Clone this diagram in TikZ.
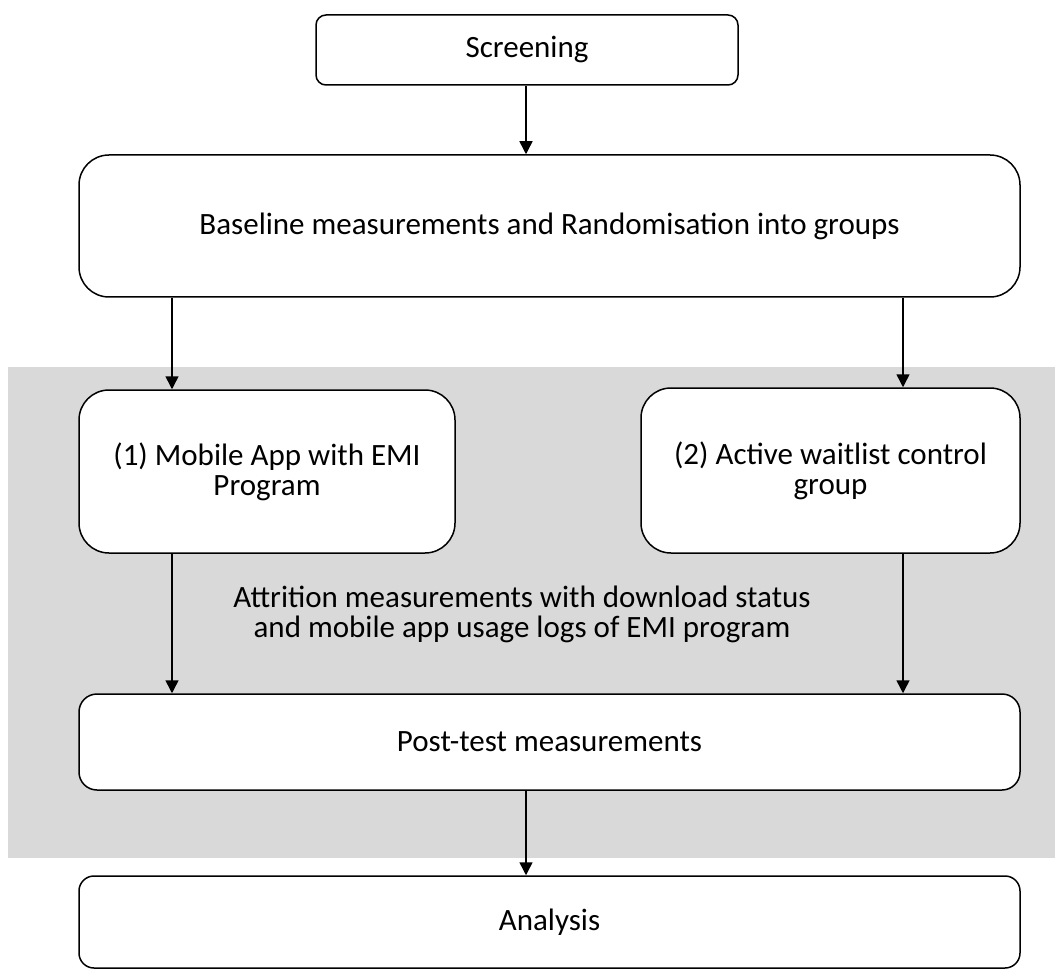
\documentclass[tikz,border=0pt]{standalone}
\usepackage{fontspec}
\setmainfont{Carlito}
\usetikzlibrary{arrows.meta}
\definecolor{panelgray}{HTML}{D9D9D9}
\tikzset{
  txt/.style={font=\fontsize{31}{30}\selectfont, align=center, inner sep=0pt},
  stage/.style={txt, draw=black, line width=1.5pt, fill=white},
  arr/.style={line width=1.5pt, -{Triangle[width=13pt,length=13pt]}},
}
\begin{document}
\begin{tikzpicture}[x=1pt,y=-1pt]
\useasboundingbox (0,0) rectangle (1055,976);
% grey band behind the two study arms
\fill[panelgray] (8,367) rectangle (1055,858);

\node[stage, rounded corners=10pt, minimum width=422pt, minimum height=70pt]
  (screen) at (527,50) {Screening};
\node[stage, rounded corners=30pt, minimum width=941pt, minimum height=142pt]
  (base) at (549.5,226) {Baseline measurements and Randomisation into groups};
\node[stage, rounded corners=30pt, minimum width=376pt, minimum height=163pt]
  (app) at (267,471.5) {(1) Mobile App with EMI\\Program};
\node[stage, rounded corners=30pt, minimum width=379pt, minimum height=165pt]
  (wait) at (830.5,470.5) {(2) Active waitlist control\\group};
\node[txt] (attr) at (522,614)
  {Attrition measurements with download status\\and mobile app usage logs of EMI program};
\node[stage, rounded corners=18pt, minimum width=941pt, minimum height=96pt]
  (post) at (549.5,742) {Post-test measurements};
\node[stage, rounded corners=15pt, minimum width=941pt, minimum height=92pt]
  (anal) at (549.5,922) {Analysis};

\coordinate (lx) at (172,0);
\coordinate (rx) at (903,0);
\coordinate (cx) at (526,0);

\draw[arr] (screen.south -| cx) -- (base.north -| cx);
\draw[arr] (base.south -| lx) -- (app.north -| lx);
\draw[arr] (base.south -| rx) -- (wait.north -| rx);
\draw[arr] (app.south -| lx) -- (post.north -| lx);
\draw[arr] (wait.south -| rx) -- (post.north -| rx);
\draw[arr] (post.south -| cx) -- (anal.north -| cx);
\end{tikzpicture}
\end{document}
